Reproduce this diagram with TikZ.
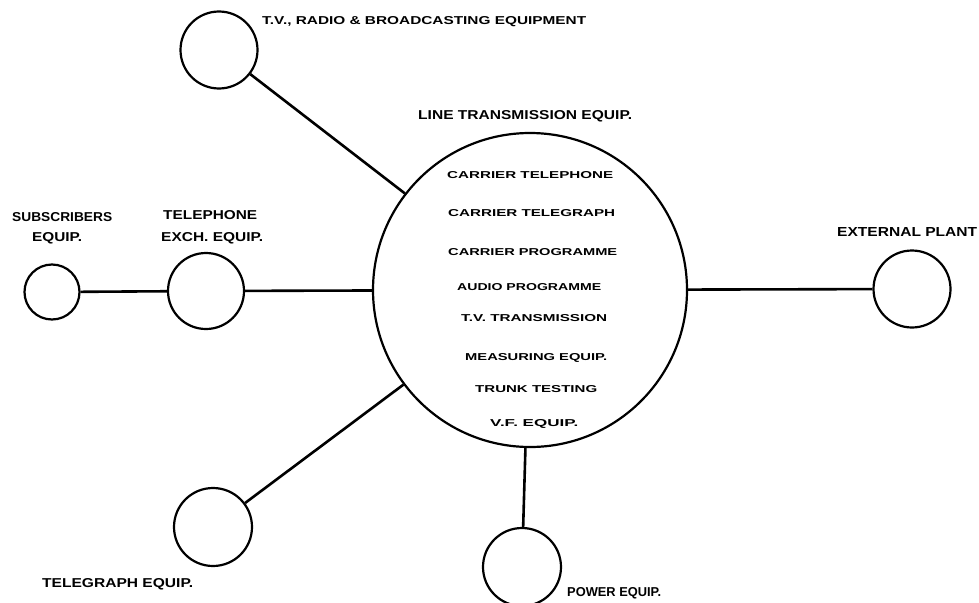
\documentclass[tikz,border=0pt]{standalone}
\usepackage{fontspec}
\setmainfont{Liberation Sans}
\usepackage{graphicx}
\newcommand{\fitlbl}[3]{\resizebox{#1pt}{#2pt}{\bfseries #3}}
\begin{document}
\begin{tikzpicture}[x=1pt,y=-1pt,
  unit/.style={circle,draw,line width=2.2pt,inner sep=0pt,minimum size=#1},
  link/.style={line width=2.6pt},
  lbl/.style={inner sep=0pt,anchor=base west}]
\useasboundingbox (0,0) rectangle (979,602);
\clip (0,0) rectangle (979,602);
% circles
\node[unit=77pt]  (tv)  at (219,50)  {};
\node[unit=314pt] (lt)  at (530,290) {};
\node[unit=55pt]  (sub) at (52,292)  {};
\node[unit=76pt]  (tel) at (206,291) {};
\node[unit=77pt]  (ext) at (912,289) {};
\node[unit=78pt]  (tg)  at (213,527) {};
\node[unit=78pt]  (pw)  at (522,567) {};
% connectors
\draw[link] (tv) -- (lt);
\draw[link] (sub) -- (tel);
\draw[link] (tel) -- (lt);
\draw[link] (lt) -- (ext);
\draw[link] (tg) -- (lt);
\draw[link] (lt) -- (pw);
% outer labels
\node[lbl] (ltv)  at (262,25)    {\fitlbl{324}{8}{T.V., RADIO \& BROADCASTING EQUIPMENT}};
\node[lbl] (llt)  at (418,119.5) {\fitlbl{214}{9}{LINE TRANSMISSION EQUIP.}};
\node[lbl] (lsub1) at (12,221.5) {\fitlbl{100}{9}{SUBSCRIBERS}};
\node[lbl] (lsub2) at (32,241.5) {\fitlbl{50}{9}{EQUIP.}};
\node[lbl] (ltel1) at (163,219.5) {\fitlbl{94}{9}{TELEPHONE}};
\node[lbl] (ltel2) at (161,241.5) {\fitlbl{102}{9}{EXCH. EQUIP.}};
\node[lbl] (lext) at (837,236.5) {\fitlbl{140}{9}{EXTERNAL PLANT}};
\node[lbl] (ltg)  at (42,587.5)  {\fitlbl{151}{9}{TELEGRAPH EQUIP.}};
\node[lbl] (lpw)  at (567,596.5) {\fitlbl{94}{9}{POWER EQUIP.}};
% inner labels
\node[lbl] (i1) at (447,178.5) {\fitlbl{166}{7}{CARRIER TELEPHONE}};
\node[lbl] (i2) at (448,216.5) {\fitlbl{167}{7}{CARRIER TELEGRAPH}};
\node[lbl] (i3) at (448,255.5) {\fitlbl{169}{7}{CARRIER PROGRAMME}};
\node[lbl] (i4) at (457,290.5) {\fitlbl{144}{7}{AUDIO PROGRAMME}};
\node[lbl] (i5) at (461,321.5) {\fitlbl{146}{7}{T.V. TRANSMISSION}};
\node[lbl] (i6) at (465,360.5) {\fitlbl{142}{7}{MEASURING EQUIP.}};
\node[lbl] (i7) at (475,392.5) {\fitlbl{122}{7}{TRUNK TESTING}};
\node[lbl] (i8) at (490,426.5) {\fitlbl{88}{7}{V.F. EQUIP.}};
\end{tikzpicture}
\end{document}
